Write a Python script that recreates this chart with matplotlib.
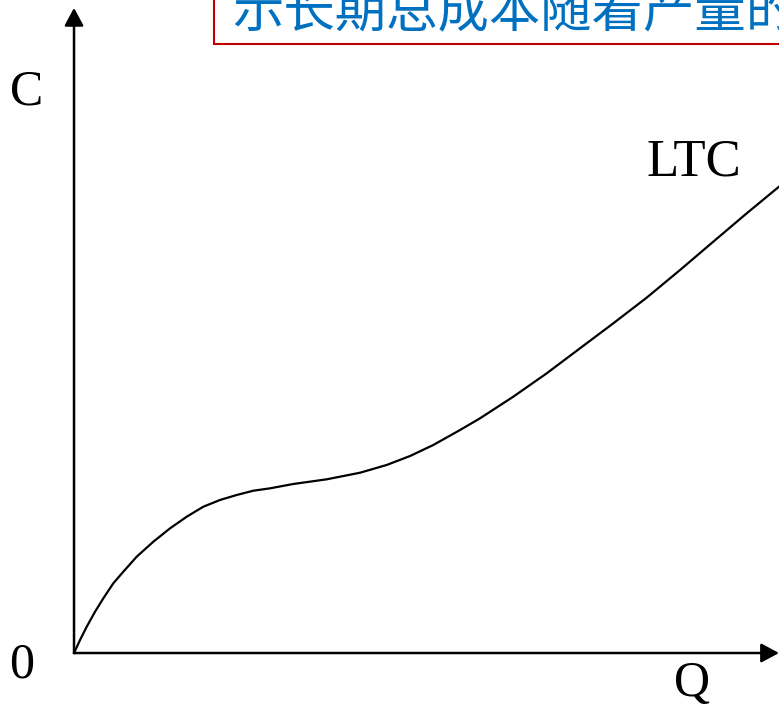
import matplotlib
matplotlib.use('Agg')
import matplotlib.pyplot as plt
from matplotlib.patches import Rectangle

# long-run total cost curve
q = [0, 0.85, 1.80, 2.98, 4.16, 5.57, 6.99, 8.89, 11.25, 13.62, 15.99, 18.34,
     20.71, 23.08, 25.43, 27.80, 31.11, 35.84, 40.57, 44.35, 47.66, 50.96,
     54.75, 57.59, 62.31, 67.05, 71.77, 76.50, 81.23, 85.96, 90.68, 95.42, 100]
ltc = [0, 2.03, 4.11, 6.45, 8.55, 10.89, 12.70, 15.05, 17.39, 19.48, 21.30,
       22.86, 23.91, 24.69, 25.36, 25.73, 26.41, 27.14, 28.17, 29.38, 30.78,
       32.50, 34.84, 36.67, 40.05, 43.70, 47.61, 51.52, 55.52, 59.84, 64.27,
       68.70, 72.86]

title_text = '示长期总成本随着产量的变化'
curve_label = 'LTC'
y_label = 'C'
x_label = 'Q'
origin_label = '0'

fig = plt.figure(figsize=(7.79, 7.11), dpi=100)
ax = fig.add_axes([0, 0, 1, 1])
ax.set_xlim(-10.5, 100)
ax.set_ylim(-9.06, 102.03)
ax.axis('off')

# axes with arrow heads
arr = dict(arrowstyle='-|>,head_length=0.54,head_width=0.29', color='black',
           lw=1.8, mutation_scale=20, shrinkA=0, shrinkB=0)
ax.annotate('', xy=(0, 100.8), xytext=(0, 0), arrowprops=arr)
ax.annotate('', xy=(100, 0), xytext=(0, 0), arrowprops=arr)

ax.plot(q, ltc, color='black', lw=1.6, solid_joinstyle='round')

serif = 'Liberation Serif'
fig.text(27 / 779, 1 - 92 / 711, y_label, family=serif, fontsize=36,
         ha='center', va='center')
fig.text(22 / 779, 1 - 665 / 711, origin_label, family=serif, fontsize=36,
         ha='center', va='center')
fig.text(692 / 779, 1 - 684 / 711, x_label, family=serif, fontsize=36,
         ha='center', va='center')
fig.text(694 / 779, 1 - 162 / 711, curve_label, family=serif, fontsize=38,
         ha='center', va='center')

# clipped title box at the top
fig.patches.append(Rectangle((214 / 779, 1 - 44 / 711), 1, 0.2,
                             transform=fig.transFigure, facecolor='white',
                             edgecolor='#C00000', lw=1.5))
fig.text(232 / 779, 1 - 27 / 711, title_text,
         family=['Noto Sans CJK SC', 'DejaVu Sans'], fontsize=37,
         color='#0070C0', ha='left', va='baseline')

fig.savefig('out.png', dpi=100)
